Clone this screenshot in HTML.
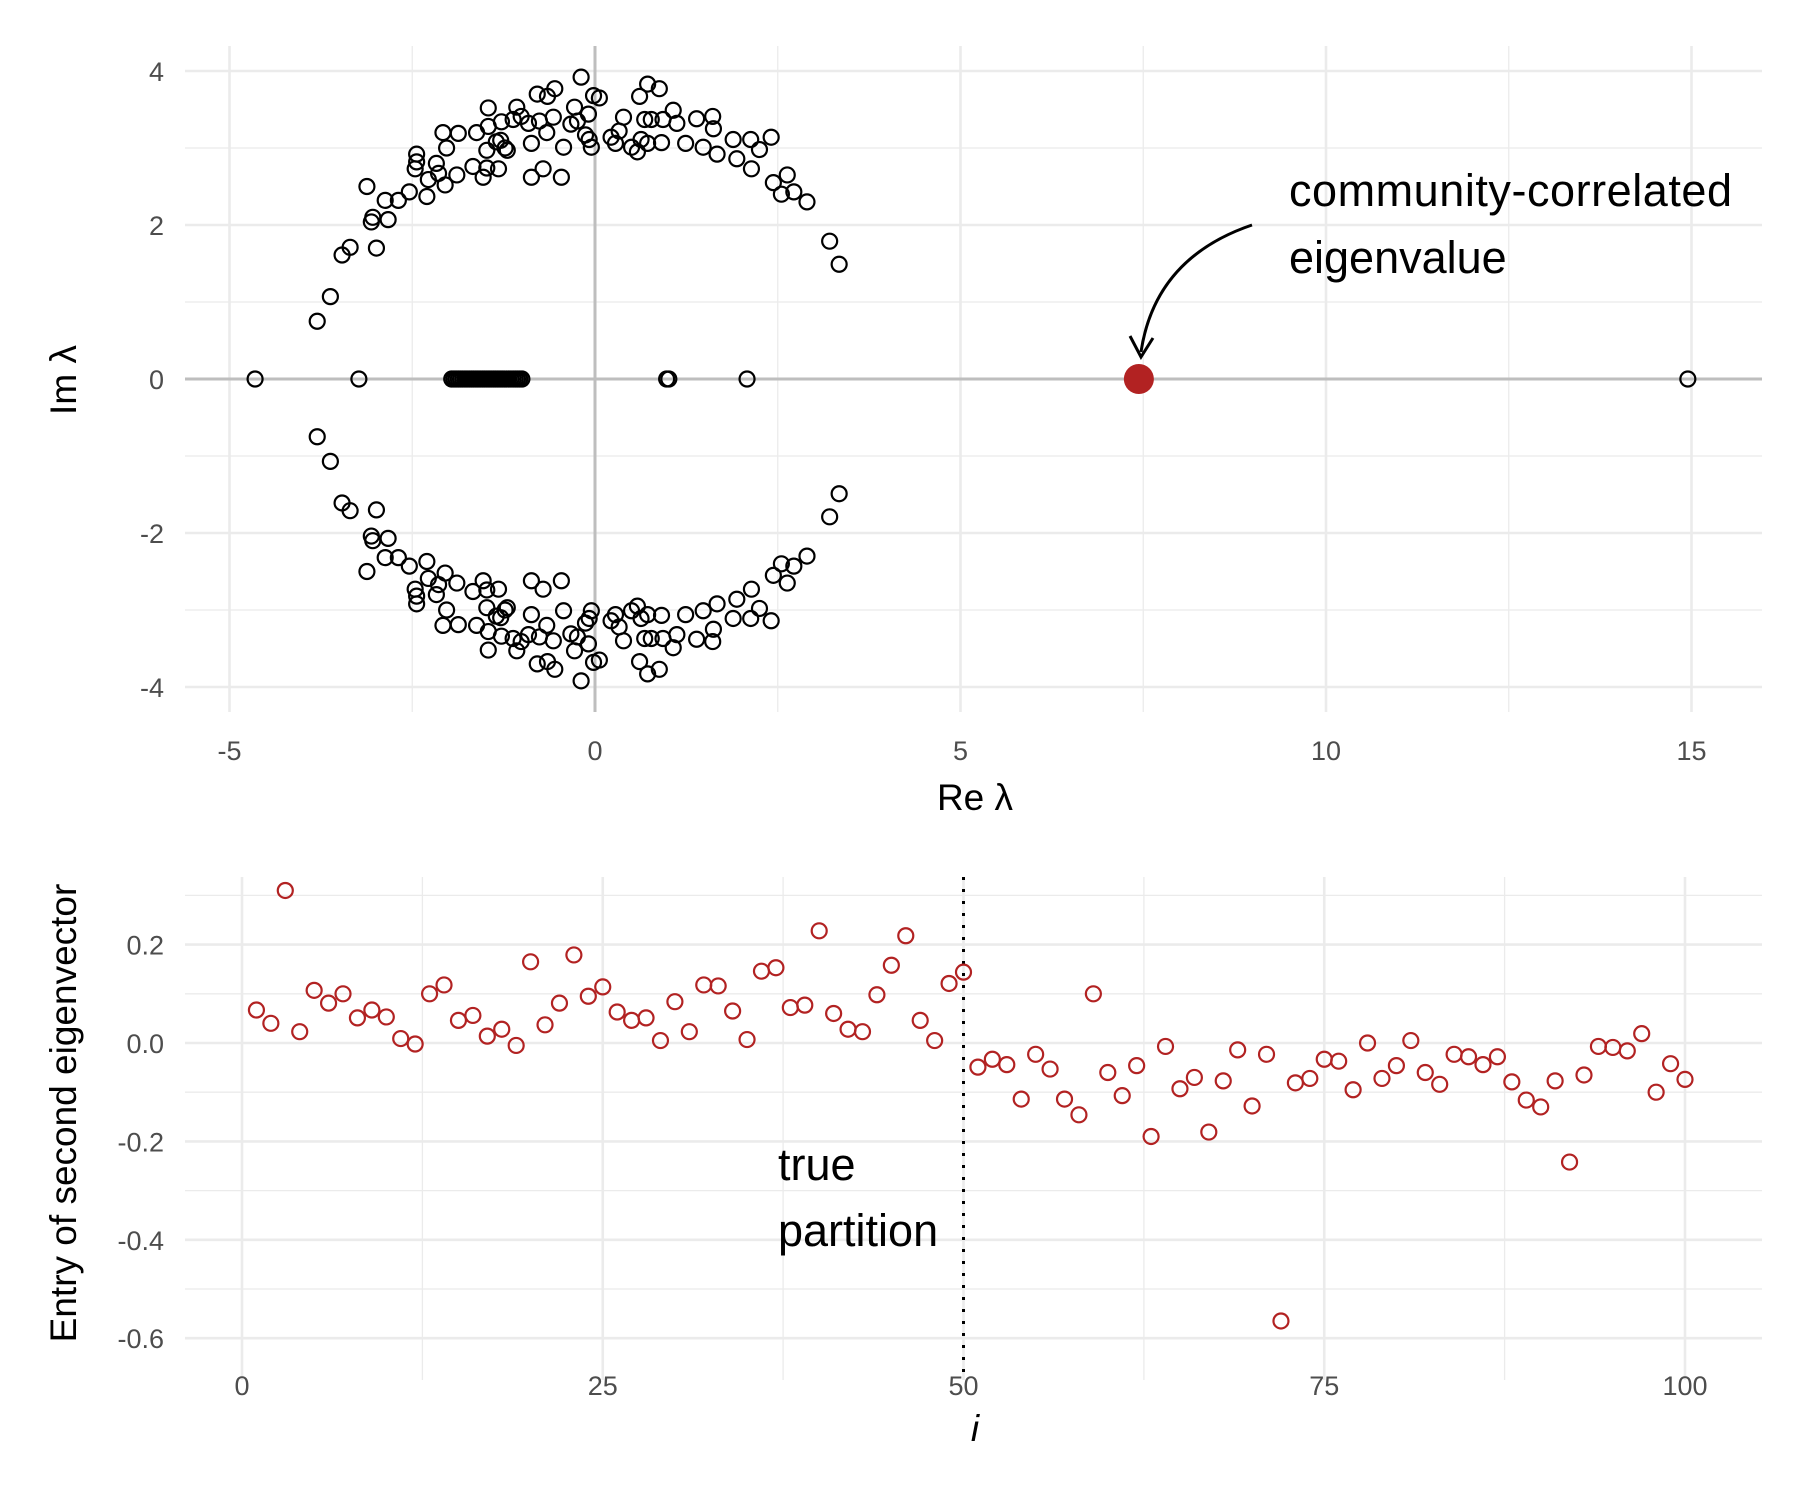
<!DOCTYPE html>
<html><head><meta charset="utf-8">
<style>
html,body{margin:0;padding:0;background:#fff;}
svg{display:block;font-family:"Liberation Sans","DejaVu Sans",sans-serif;}
</style></head>
<body>
<svg id="chart" width="1800" height="1500" viewBox="0 0 1800 1500" xmlns="http://www.w3.org/2000/svg">
<g id="top"></g>
<g id="bot"></g>
</svg>
<script>
// ---- top panel data ----
const upperRe = [-3.80,-3.62,-3.46,-3.35,-2.99,-3.06,-3.04,-2.83,-3.12,-2.87,-2.69,-2.54,-2.30,-2.28,-2.14,-2.46,-2.44,-2.44,-2.17,-2.05,-2.03,-2.08,-1.87,-1.89,-1.67,-1.62,-1.53,-1.48,-1.48,-1.46,-1.46,-1.35,-1.32,-1.29,-1.23,-1.28,-1.20,-1.12,-1.07,-1.01,-0.91,-0.87,-0.87,-0.79,-0.76,-0.71,-0.66,-0.65,-0.55,-0.57,-0.46,-0.43,-0.33,-0.28,-0.24,-0.19,-0.13,-0.09,-0.08,-0.05,-0.02,0.06,0.22,0.28,0.33,0.39,0.50,0.58,0.61,0.63,0.68,0.72,0.72,0.77,0.88,0.91,0.93,1.07,1.12,1.24,1.39,1.48,1.61,1.62,1.67,1.89,1.94,2.13,2.14,2.25,2.41,2.44,2.55,2.63,2.72,2.90,3.21,3.34];
const upperIm = [0.75,1.07,1.61,1.71,1.70,2.04,2.10,2.07,2.50,2.32,2.32,2.43,2.37,2.59,2.67,2.73,2.82,2.92,2.80,2.52,3.00,3.20,3.19,2.65,2.76,3.20,2.62,2.74,2.97,3.28,3.52,3.08,2.73,3.10,3.00,3.34,2.97,3.37,3.53,3.41,3.32,3.06,2.62,3.70,3.35,2.73,3.20,3.67,3.77,3.40,2.62,3.01,3.31,3.53,3.35,3.92,3.17,3.44,3.11,3.01,3.68,3.65,3.14,3.06,3.22,3.40,3.01,2.95,3.67,3.11,3.37,3.83,3.06,3.37,3.77,3.07,3.37,3.49,3.32,3.06,3.38,3.01,3.41,3.25,2.92,3.11,2.86,3.11,2.73,2.98,3.14,2.55,2.40,2.65,2.43,2.30,1.79,1.49];
const realEig = [-4.65,-3.23,-1.96,-1.93,-1.90,-1.87,-1.84,-1.81,-1.78,-1.75,-1.72,-1.69,-1.66,-1.63,-1.60,-1.57,-1.54,-1.51,-1.48,-1.45,-1.42,-1.39,-1.36,-1.33,-1.30,-1.27,-1.24,-1.21,-1.18,-1.15,-1.12,-1.09,-1.06,-1.03,-1.0,0.98,1.01,2.08,14.95];
const highlightRe = 7.44;
const topXTicks = [-5,0,5,10,15];
const topYTicks = [-4,-2,0,2,4];
// ---- bottom panel data ----
const vecVals = [0.067,0.04,0.31,0.023,0.107,0.081,0.10,0.051,0.067,0.053,0.009,-0.002,0.10,0.118,0.046,0.056,0.014,0.028,-0.005,0.165,0.037,0.081,0.179,0.095,0.114,0.063,0.046,0.051,0.005,0.084,0.023,0.118,0.116,0.065,0.007,0.146,0.153,0.072,0.077,0.228,0.06,0.028,0.023,0.098,0.158,0.218,0.046,0.005,0.121,0.144,-0.049,-0.033,-0.044,-0.114,-0.023,-0.053,-0.114,-0.146,0.10,-0.06,-0.107,-0.046,-0.19,-0.007,-0.093,-0.07,-0.181,-0.077,-0.014,-0.128,-0.023,-0.565,-0.081,-0.072,-0.033,-0.037,-0.095,0,-0.072,-0.046,0.005,-0.06,-0.084,-0.023,-0.028,-0.044,-0.028,-0.079,-0.116,-0.13,-0.077,-0.242,-0.065,-0.007,-0.009,-0.016,0.019,-0.1,-0.042,-0.074];
const botXTicks = [0,25,50,75,100];
const botYTicks = [-0.6,-0.4,-0.2,0.0,0.2];
const botYLabels = ["-0.6","-0.4","-0.2","0.0","0.2"];
const partitionAt = 50;

const NS="http://www.w3.org/2000/svg";
function mk(parent,tag,attrs){const e=document.createElementNS(NS,tag);for(const k in attrs)e.setAttribute(k,attrs[k]);parent.appendChild(e);return e;}

// top scales
const tx=v=>595+v*73.1, ty=v=>379+v*-77.0;
const T=document.getElementById('top');
const TL=185,TR=1762,TT=46,TB=712;
[-2.5,2.5,7.5,12.5].forEach(v=>{const l=mk(T,'line',{x1:tx(v),x2:tx(v),y1:TT,y2:TB,stroke:'#ebebeb','stroke-width':1.3});
});
[-3,-1,1,3].forEach(v=>{const l=mk(T,'line',{x1:TL,x2:TR,y1:ty(v),y2:ty(v),stroke:'#ebebeb','stroke-width':1.3});
});
topXTicks.forEach(v=>{const l=mk(T,'line',{x1:tx(v),x2:tx(v),y1:TT,y2:TB,stroke:'#ebebeb','stroke-width':2.6});

const t=mk(T,'text',{x:tx(v),y:760,'text-anchor':'middle','font-size':27,fill:'#4d4d4d'});t.textContent=v;
});
topYTicks.forEach(v=>{const l=mk(T,'line',{x1:TL,x2:TR,y1:ty(v),y2:ty(v),stroke:'#ebebeb','stroke-width':2.6});

const t=mk(T,'text',{x:164,y:ty(v)+10,'text-anchor':'end','font-size':27,fill:'#4d4d4d'});t.textContent=v;
});
let a=mk(T,'line',{x1:TL,x2:TR,y1:ty(0),y2:ty(0),stroke:'#bebebe','stroke-width':3});

a=mk(T,'line',{x1:tx(0),x2:tx(0),y1:TT,y2:TB,stroke:'#bebebe','stroke-width':3});

function pt(g,x,y){const c=mk(g,'circle',{cx:x,cy:y,r:7.5,fill:'none',stroke:'#000','stroke-width':2.2});
}
upperRe.forEach((re,i)=>{pt(T,tx(re),ty(upperIm[i]));pt(T,tx(re),ty(-upperIm[i]));});
realEig.forEach(re=>pt(T,tx(re),ty(0)));
const hc=mk(T,'circle',{cx:tx(highlightRe),cy:ty(0),r:15,fill:'#b22222'});

let t=mk(T,'text',{x:975,y:810,'text-anchor':'middle','font-size':37,fill:'#000'});t.textContent='Re  λ';

t=mk(T,'text',{x:0,y:0,'text-anchor':'middle','font-size':37,fill:'#000',transform:'translate(76,380) rotate(-90)'});t.textContent='Im  λ';

t=mk(T,'text',{x:1289,y:206,'font-size':45,fill:'#000',textLength:443});t.textContent='community-correlated';

t=mk(T,'text',{x:1289,y:273,'font-size':45,fill:'#000'});t.textContent='eigenvalue';

a=mk(T,'path',{d:'M1252,225 Q1155,258 1141,352',fill:'none',stroke:'#000','stroke-width':3});

a=mk(T,'path',{d:'M1130,336 L1141,357 L1153,338',fill:'none',stroke:'#000','stroke-width':3});


// bottom scales
const bx=i=>242+i*14.43, by=v=>1043+v*-492;
const B=document.getElementById('bot');
const BL=185,BR=1762,BT=877,BB=1380;
[12.5,37.5,62.5,87.5].forEach(v=>{const l=mk(B,'line',{x1:bx(v),x2:bx(v),y1:BT,y2:BB,stroke:'#ebebeb','stroke-width':1.3});
});
[-0.5,-0.3,-0.1,0.1,0.3].forEach(v=>{const l=mk(B,'line',{x1:BL,x2:BR,y1:by(v),y2:by(v),stroke:'#ebebeb','stroke-width':1.3});
});
botXTicks.forEach(v=>{const l=mk(B,'line',{x1:bx(v),x2:bx(v),y1:BT,y2:BB,stroke:'#ebebeb','stroke-width':2.6});

const tt=mk(B,'text',{x:bx(v),y:1395,'text-anchor':'middle','font-size':27,fill:'#4d4d4d'});tt.textContent=v;
});
botYTicks.forEach((v,k)=>{const l=mk(B,'line',{x1:BL,x2:BR,y1:by(v),y2:by(v),stroke:'#ebebeb','stroke-width':2.6});

const tt=mk(B,'text',{x:164,y:by(v)+10,'text-anchor':'end','font-size':27,fill:'#4d4d4d'});tt.textContent=botYLabels[k];
});
a=mk(B,'line',{x1:bx(partitionAt),x2:bx(partitionAt),y1:BT,y2:BB,stroke:'#000','stroke-width':3,'stroke-dasharray':'3,9'});

vecVals.forEach((v,i)=>{const c=mk(B,'circle',{cx:bx(i+1),cy:by(v),r:7.5,fill:'none',stroke:'#b22222','stroke-width':2.2});
});
t=mk(B,'text',{x:778,y:1180,'font-size':45,fill:'#000'});t.textContent='true';

t=mk(B,'text',{x:778,y:1246,'font-size':45,fill:'#000'});t.textContent='partition';

t=mk(B,'text',{x:975,y:1441,'text-anchor':'middle','font-size':37,'font-style':'italic',fill:'#000'});t.textContent='i';

t=mk(B,'text',{x:0,y:0,'text-anchor':'middle','font-size':37,fill:'#000',transform:'translate(76,1113) rotate(-90)'});t.textContent='Entry of second eigenvector';

</script>
</body></html>
